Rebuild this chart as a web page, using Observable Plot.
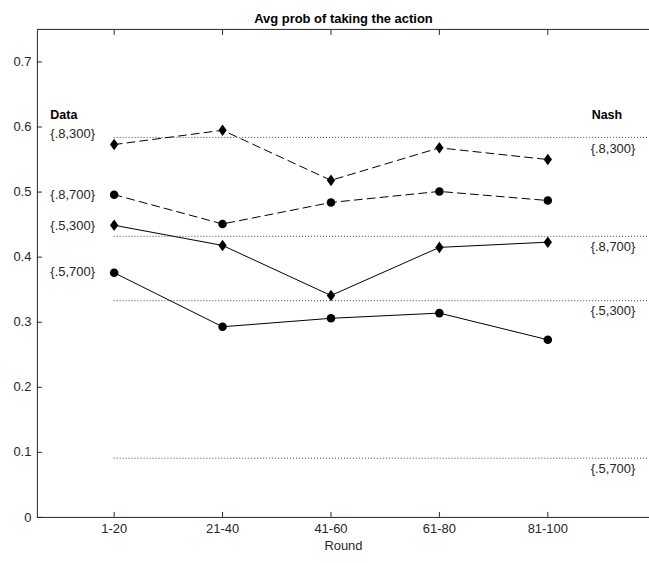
<!DOCTYPE html>
<html><head><meta charset="utf-8">
<script src="https://cdn.jsdelivr.net/npm/d3@7"></script>
<script src="https://cdn.jsdelivr.net/npm/@observablehq/plot@0.6"></script>
<style>
html,body{margin:0;padding:0;background:#fff;overflow:hidden;width:649px;height:563px}
</style></head><body><div id="chart"></div>
<script>
// ---- data ----
const rounds = ["1-20", "21-40", "41-60", "61-80", "81-100"];
const seriesNames = ["{.8,300}", "{.8,700}", "{.5,300}", "{.5,700}"];
const s8_300 = [0.573, 0.595, 0.518, 0.568, 0.550];
const s8_700 = [0.496, 0.451, 0.484, 0.501, 0.487];
const s5_300 = [0.449, 0.418, 0.341, 0.415, 0.423];
const s5_700 = [0.376, 0.293, 0.306, 0.314, 0.273];
const nashValues = [0.584, 0.432, 0.333, 0.091];
const dataLabelY = [0.590, 0.4965, 0.448, 0.378];
const nashLabelY = [0.567, 0.416, 0.318, 0.075];
const headerNames = ["Data", "Nash"];
const headerY = 0.618;
const yTicks = [0, 0.1, 0.2, 0.3, 0.4, 0.5, 0.6, 0.7];
const titleText = "Avg prob of taking the action";
const xLabelText = "Round";

// ---- build tables ----
const seriesValues = [s8_300, s8_700, s5_300, s5_700];
const dashed = [true, true, false, false];
const diamondMarker = [true, false, true, false];
const rows = seriesValues.flatMap((vals, si) =>
  vals.map((v, i) => ({series: seriesNames[si], si, pos: i + 1, value: v})));
const nashRows = nashValues.map((v, i) => ({series: seriesNames[i], value: v, labelY: nashLabelY[i]}));
const dataLabelRows = dataLabelY.map((v, i) => ({series: seriesNames[i], labelY: v}));
const xTicks = rounds.map((_, i) => i + 1);

const xDomain = [0.292, 5.938];
const ink = "#262626";

const diamondSym = {
  draw(context, size) {
    const r = Math.sqrt(size / Math.PI);
    const h = r * 1.35, w = h * 0.72;
    context.moveTo(0, -h);
    context.lineTo(w, 0);
    context.lineTo(0, h);
    context.lineTo(-w, 0);
    context.closePath();
  }
};

const marks = [
  Plot.frame({stroke: ink, strokeWidth: 1}),
  Plot.ruleY(nashRows, {y: "value", x1: 1, x2: xDomain[1], stroke: "#444", strokeWidth: 1, strokeDasharray: "1,2"})
];
seriesNames.forEach((name, si) => {
  const d = rows.filter(r => r.si === si);
  marks.push(Plot.line(d, {x: "pos", y: "value", stroke: "black", strokeWidth: 1,
    strokeDasharray: dashed[si] ? "8,5" : null}));
  marks.push(Plot.dot(d, {x: "pos", y: "value", r: 4.3, fill: "black", stroke: "none",
    symbol: diamondMarker[si] ? diamondSym : "circle"}));
});
marks.push(
  Plot.text(dataLabelRows, {y: "labelY", text: "series", frameAnchor: "left", dx: 13, textAnchor: "start", fill: ink, fontSize: 13}),
  Plot.text(nashRows, {y: "labelY", text: "series", frameAnchor: "right", dx: -59, textAnchor: "start", fill: ink, fontSize: 13}),
  Plot.text([headerNames[0]], {y: headerY, text: d => d, frameAnchor: "left", dx: 13, textAnchor: "start", fontWeight: "bold", fill: "black", fontSize: 12.5}),
  Plot.text([headerNames[1]], {y: headerY, text: d => d, frameAnchor: "right", dx: -58, textAnchor: "start", fontWeight: "bold", fill: "black", fontSize: 12.5}),
  Plot.text([titleText], {text: d => d, frameAnchor: "top", dy: -16, fontWeight: "bold", fill: "black", fontSize: 13}),
  Plot.text([xLabelText], {text: d => d, frameAnchor: "bottom", lineAnchor: "middle", dy: 29, fill: ink, fontSize: 13}),
  // inward ticks
  Plot.axisX({ticks: xTicks, tickSize: 5, dy: -5, tickFormat: () => "", label: null, stroke: ink}),
  Plot.axisX({anchor: "top", ticks: xTicks, tickSize: 5, dy: 5, tickFormat: () => "", label: null, stroke: ink}),
  Plot.axisY({ticks: yTicks, tickSize: 5, dx: 5, tickFormat: () => "", label: null, stroke: ink}),
  // labels
  Plot.axisX({ticks: xTicks, tickSize: 0, tickPadding: 6, tickFormat: i => rounds[i - 1], label: null, fill: ink, fontSize: 13}),
  Plot.axisY({ticks: yTicks, tickSize: 0, tickPadding: 6, tickFormat: d => String(d), label: null, fill: ink, fontSize: 13})
);

const chart = Plot.plot({
  width: 651,
  height: 563,
  marginLeft: 37,
  marginRight: 0,
  marginTop: 29,
  marginBottom: 44.5,
  style: {fontFamily: "'Liberation Sans', Arial, Helvetica, sans-serif", fontSize: "13px", color: ink, background: "white", overflow: "visible"},
  x: {type: "linear", domain: xDomain},
  y: {domain: [0, 0.75]},
  marks
});
document.getElementById("chart").appendChild(chart);
</script>
</body></html>
